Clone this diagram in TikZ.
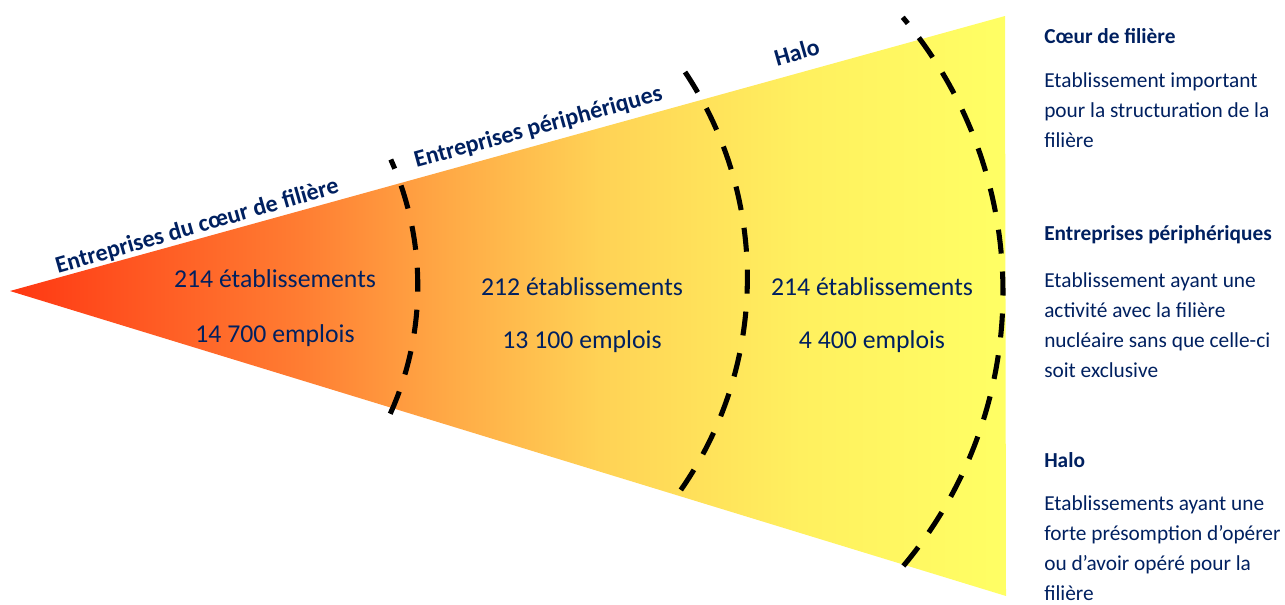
\documentclass[tikz,border=0pt]{standalone}
\usepackage{fontspec}
\setmainfont{Carlito}
\definecolor{navy}{RGB}{0,32,96}
\definecolor{c0}{RGB}{255,55,18}
\definecolor{c1}{RGB}{255,90,35}
\definecolor{c2}{RGB}{255,125,50}
\definecolor{c3}{RGB}{255,170,70}
\definecolor{c4}{RGB}{255,210,85}
\definecolor{c5}{RGB}{255,240,95}
\definecolor{c6}{RGB}{255,255,100}
\pgfdeclarehorizontalshading{wedgeshade}{100bp}{color(0bp)=(c0); color(25bp)=(c0); color(32bp)=(c1); color(39.6bp)=(c2); color(47.1bp)=(c3); color(54.6bp)=(c4); color(64.7bp)=(c5); color(75bp)=(c6); color(100bp)=(c6)}
\begin{document}
\begin{tikzpicture}[x=0.75pt, y=-0.75pt,
        ring/.style={line width=3.8pt, dash pattern=on 18pt off 13.5pt},
        figure/.style={font=\fontsize{19.3}{23}\selectfont, text=navy, anchor=base, inner sep=0},
        zone/.style={font=\bfseries\fontsize{18}{22}\selectfont, text=navy, anchor=base, inner sep=0},
        head/.style={font=\bfseries\fontsize{16}{20}\selectfont, text=navy, anchor=base west, inner sep=0},
        note/.style={font=\fontsize{16}{22.3}\selectfont, text=navy, align=left, anchor=base west, inner sep=0},]
        \useasboundingbox (0,0) rectangle (1285,604);

        % Wedge
        \coordinate (tip) at (10,291);
        \coordinate (top) at (1005,16);
        \coordinate (bot) at (1006,596);
        \shade[shading=wedgeshade] (tip) -- (top) -- (bot) -- cycle;

        % Borders
        \draw[ring, dash phase=10.5pt] (108,286) ++(-24.1:309.8) arc[start angle=-24.1, end angle=25, radius=309.8];
        \draw[ring] (376.3,277.9) ++(-33.7:371.1) arc[start angle=-33.7, end angle=35.6, radius=371.1];
        \draw[ring, dash phase=12pt] (576.5,292) ++(-40.1:426.5) arc[start angle=-40.1, end angle=40.1, radius=426.5];

        % Zones
        \node[zone, rotate=16]   (z1) at (199,233) {Entreprises du cœur de filière};
        \node[zone, rotate=15.3] (z2) at (540,134) {Entreprises périphériques};
        \node[zone, rotate=16]   (z3) at (799,60)  {Halo};

        % Figures
        \node[figure] (e1) at (275,287) {214 établissements};
        \node[figure] (m1) at (275,342) {14 700 emplois};
        \node[figure] (e2) at (582,295) {212 établissements};
        \node[figure] (m2) at (582,348) {13 100 emplois};
        \node[figure] (e3) at (872,295) {214 établissements};
        \node[figure] (m3) at (872,348) {4 400 emplois};

        % Legend (notes sit on the baseline of their last line)
        \node[head] (h1) at (1044,43)  {Cœur de filière};
        \node[note] (d1) at (1044,147) {Etablissement important\\pour la structuration de la\\filière};
        \node[head] (h2) at (1044,240) {Entreprises périphériques};
        \node[note] (d2) at (1044,377) {Etablissement ayant une\\activité avec la filière\\nucléaire sans que celle-ci\\soit exclusive};
        \node[head] (h3) at (1044,467) {Halo};
        \node[note] (d3) at (1044,600) {Etablissements ayant une\\forte présomption d’opérer\\ou d’avoir opéré pour la\\filière};
    \end{tikzpicture}
\end{document}
